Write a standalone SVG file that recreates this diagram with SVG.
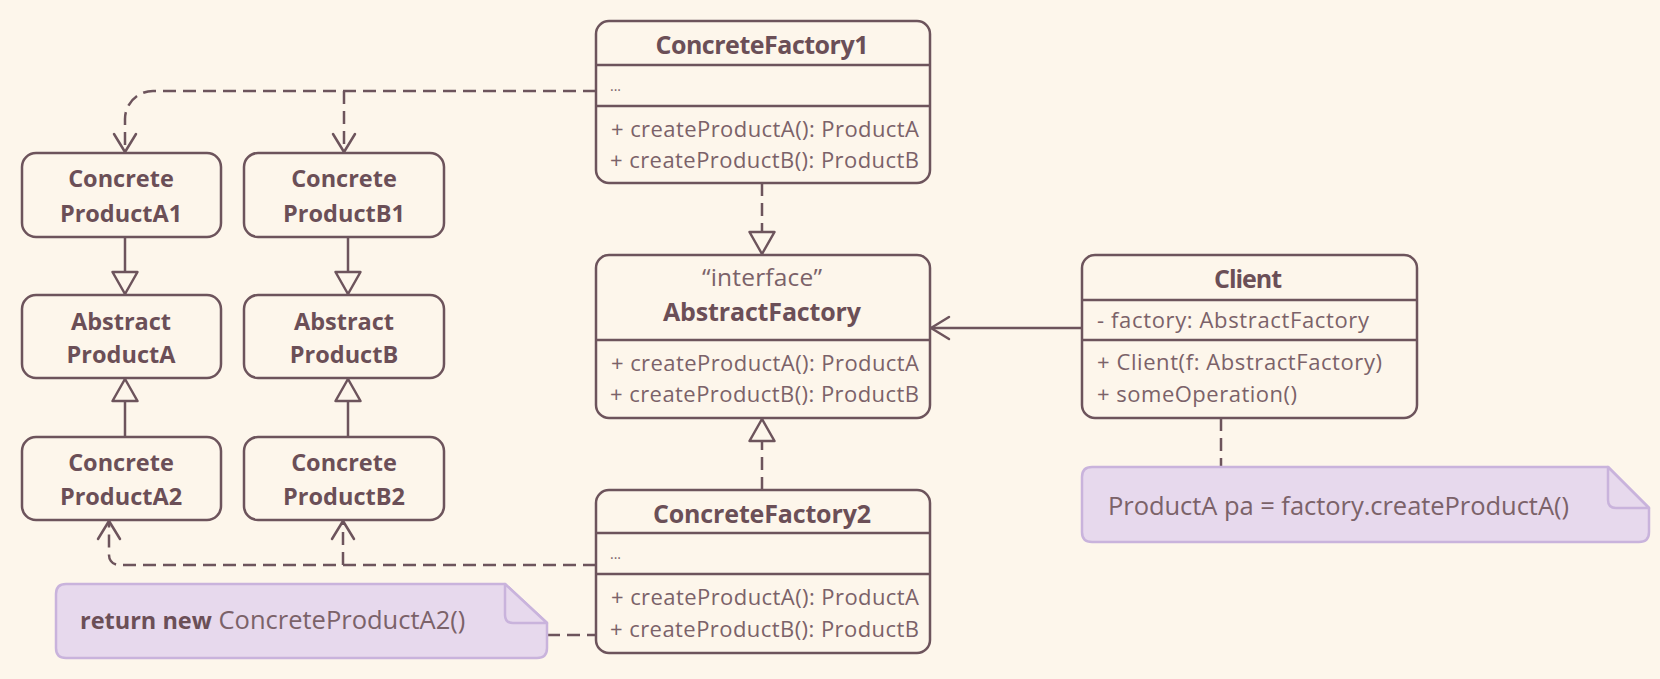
<svg xmlns="http://www.w3.org/2000/svg" width="1660" height="679" viewBox="0 0 1660 679">
<style>
  .bg { fill: #fdf6eb; }
  .box { fill: #fdf6eb; stroke: #6d545c; stroke-width: 2.5; }
  .div { stroke: #6d545c; stroke-width: 2.5; }
  .note { fill: #e7d9ed; stroke: #c9b3dc; stroke-width: 2.5; stroke-linejoin: round; }
  .fold { fill: #e7d9ed; stroke: #c9b3dc; stroke-width: 2.5; stroke-linejoin: round; }
  .ln { fill: none; stroke: #6d545c; stroke-width: 2.5; }
  .dash { fill: none; stroke: #6d545c; stroke-width: 2.5; stroke-dasharray: 13 7; }
  .t { font-family: "Open Sans", "Noto Sans", sans-serif; font-size: 23.5px; font-weight: 700; fill: #6b4f57; text-anchor: middle; }
  .h { font-family: "Open Sans", "Noto Sans", sans-serif; font-size: 25px; font-weight: 700; fill: #6b4f57; text-anchor: middle; }
  .m { font-family: "Open Sans", "Noto Sans", sans-serif; font-size: 22px; fill: #7b6269; }
  .s { font-family: "Open Sans", "Noto Sans", sans-serif; font-size: 24.5px; fill: #7b6269; text-anchor: middle; }
  .n { font-family: "Open Sans", "Noto Sans", sans-serif; font-size: 25.5px; fill: #7b6269; }
  .nb { font-weight: 700; fill: #6b4f57; font-size: 23.5px; }
  .dots { font-family: "Open Sans", "Noto Sans", sans-serif; font-size: 14px; fill: #7b6269; }
</style>
<defs>
  <marker id="open" markerUnits="userSpaceOnUse" orient="auto" markerWidth="30" markerHeight="30" refX="0" refY="0" overflow="visible">
    <path d="M-18,-11 L0,0 L-18,11" fill="none" stroke="#6d545c" stroke-width="2.5" stroke-linejoin="round" stroke-linecap="round"/>
  </marker>
  <marker id="tri" markerUnits="userSpaceOnUse" orient="auto" markerWidth="30" markerHeight="30" refX="0" refY="0" overflow="visible">
    <path d="M0,0 L-22,-12.5 L-22,12.5 Z" fill="#fdf6eb" stroke="#6d545c" stroke-width="2.5" stroke-linejoin="round"/>
  </marker>
</defs>
<rect class="bg" x="0" y="0" width="1660" height="679"/>

<g id="connectors">
  <path class="dash" d="M596,91 H153 A28,28 0 0 0 125,119 V152" marker-end="url(#open)"/>
  <path class="dash" d="M344,91 V152" marker-end="url(#open)"/>
  <path class="ln" d="M125,237 V294" marker-end="url(#tri)"/>
  <path class="ln" d="M348,237 V294" marker-end="url(#tri)"/>
  <path class="ln" d="M125,437 V379" marker-end="url(#tri)"/>
  <path class="ln" d="M348,437 V379" marker-end="url(#tri)"/>
  <path class="dash" d="M596,565 H119 A10,10 0 0 1 109,555 V521" marker-end="url(#open)"/>
  <path class="dash" d="M343,565 V521" marker-end="url(#open)"/>
  <path class="dash" d="M762,183 V254" marker-end="url(#tri)"/>
  <path class="dash" d="M762,490 V419" marker-end="url(#tri)"/>
  <path class="ln" d="M1082,328 H931" marker-end="url(#open)"/>
  <path class="dash" d="M1221,418 V467"/>
  <path class="dash" d="M547,635 H596"/>
</g>

<g id="concrete-product-a1">
  <rect class="box" x="22" y="153" width="199" height="84" rx="14"/>
  <text class="t" x="121" y="187">Concrete</text>
  <text class="t" x="121" y="222">ProductA1</text>
</g>
<g id="concrete-product-b1">
  <rect class="box" x="244" y="153" width="200" height="84" rx="14"/>
  <text class="t" x="344" y="187">Concrete</text>
  <text class="t" x="344" y="222">ProductB1</text>
</g>
<g id="abstract-product-a">
  <rect class="box" x="22" y="295" width="199" height="83" rx="14"/>
  <text class="t" x="121" y="330">Abstract</text>
  <text class="t" x="121" y="363">ProductA</text>
</g>
<g id="abstract-product-b">
  <rect class="box" x="244" y="295" width="200" height="83" rx="14"/>
  <text class="t" x="344" y="330">Abstract</text>
  <text class="t" x="344" y="363">ProductB</text>
</g>
<g id="concrete-product-a2">
  <rect class="box" x="22" y="437" width="199" height="83" rx="14"/>
  <text class="t" x="121" y="471">Concrete</text>
  <text class="t" x="121" y="505">ProductA2</text>
</g>
<g id="concrete-product-b2">
  <rect class="box" x="244" y="437" width="200" height="83" rx="14"/>
  <text class="t" x="344" y="471">Concrete</text>
  <text class="t" x="344" y="505">ProductB2</text>
</g>

<g id="concrete-factory1">
  <rect class="box" x="596" y="21" width="334" height="162" rx="13"/>
  <line class="div" x1="596" y1="65" x2="930" y2="65"/>
  <line class="div" x1="596" y1="106" x2="930" y2="106"/>
  <text class="h" x="762" y="54" textLength="213">ConcreteFactory1</text>
  <text class="dots" x="610" y="91">...</text>
  <text class="m" x="611" y="137" textLength="308">+ createProductA(): ProductA</text>
  <text class="m" x="610" y="168" textLength="309">+ createProductB(): ProductB</text>
</g>

<g id="abstract-factory">
  <rect class="box" x="596" y="255" width="334" height="163" rx="13"/>
  <line class="div" x1="596" y1="340" x2="930" y2="340"/>
  <text class="s" x="762" y="286" textLength="120">“interface”</text>
  <text class="h" x="762" y="321" textLength="198">AbstractFactory</text>
  <text class="m" x="611" y="371" textLength="308">+ createProductA(): ProductA</text>
  <text class="m" x="610" y="402" textLength="309">+ createProductB(): ProductB</text>
</g>

<g id="concrete-factory2">
  <rect class="box" x="596" y="490" width="334" height="163" rx="13"/>
  <line class="div" x1="596" y1="533" x2="930" y2="533"/>
  <line class="div" x1="596" y1="574" x2="930" y2="574"/>
  <text class="h" x="762" y="523" textLength="218">ConcreteFactory2</text>
  <text class="dots" x="610" y="559">...</text>
  <text class="m" x="611" y="605" textLength="308">+ createProductA(): ProductA</text>
  <text class="m" x="610" y="637" textLength="309">+ createProductB(): ProductB</text>
</g>

<g id="client">
  <rect class="box" x="1082" y="255" width="335" height="163" rx="13"/>
  <line class="div" x1="1082" y1="300" x2="1417" y2="300"/>
  <line class="div" x1="1082" y1="340" x2="1417" y2="340"/>
  <text class="h" x="1248" y="288" textLength="68">Client</text>
  <text class="m" x="1097" y="328" textLength="272">- factory: AbstractFactory</text>
  <text class="m" x="1097" y="370" textLength="285">+ Client(f: AbstractFactory)</text>
  <text class="m" x="1097" y="402" textLength="200">+ someOperation()</text>
</g>

<g id="note-return">
  <path class="note" d="M66,584 H505 L547,623 V648 Q547,658 537,658 H66 Q56,658 56,648 V594 Q56,584 66,584 Z"/>
  <path class="fold" d="M505,584 V615 Q505,623 513,623 H547 Z"/>
  <text class="n" x="80" y="629"><tspan class="nb">return new</tspan> ConcreteProductA2()</text>
</g>

<g id="note-client">
  <path class="note" d="M1092,467 H1608 L1649,508 V532 Q1649,542 1639,542 H1092 Q1082,542 1082,532 V477 Q1082,467 1092,467 Z"/>
  <path class="fold" d="M1608,467 V500 Q1608,508 1616,508 H1649 Z"/>
  <text class="n" x="1108" y="515" textLength="461">ProductA pa = factory.createProductA()</text>
</g>
</svg>
